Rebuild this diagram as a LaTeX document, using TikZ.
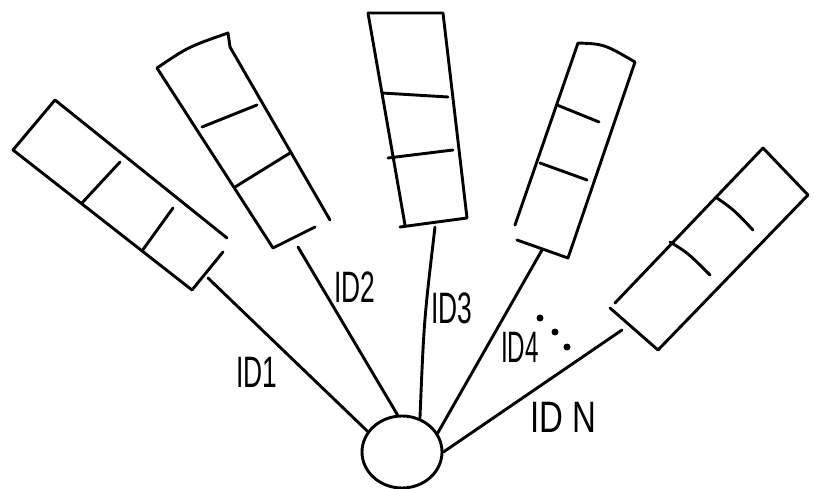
\documentclass[tikz,border=0pt]{standalone}
\usepackage{fontspec}
\setmainfont{Liberation Sans}
\usetikzlibrary{shapes.geometric}
\begin{document}
\begin{tikzpicture}[x=1pt,y=-1pt,line width=2.9pt,line cap=round,line join=round,
  lbl/.style={inner sep=0pt,font=\fontsize{44}{44}\selectfont},
  hubstyle/.style={ellipse,draw,minimum width=80pt,minimum height=72pt,inner sep=0pt},
  conn/.style={draw},
  dotstyle/.style={circle,fill=black,inner sep=0pt,minimum size=7pt}]
\useasboundingbox (0,0) rectangle (814,489);
% hub
\node[hubstyle] (hub) at (402,452) {};
% rectangle 1
\draw (227,238) -- (55,100) -- (13,150) -- (192,290) -- (223,252);
\draw (82,203) -- (120,162);
\draw (142,251) -- (173,208);
\coordinate (b1) at (208,278);
% rectangle 2
\draw (315,227) -- (273,248) -- (157,68) .. controls (188,47) .. (228,33) -- (230,47) -- (330,220);
\draw (202,127) -- (257,105);
\draw (235,187) -- (290,153);
\coordinate (b2) at (298,247);
% rectangle 3
\draw (368,13) -- (443,13) -- (467,218) -- (400,227);
\draw (368,13) -- (405,225);
\draw (382,93) -- (448,97);
\draw (388,158) -- (453,150);
\coordinate (b3) at (435,227);
% rectangle 4
\draw (515,225) -- (578,43) .. controls (604,44) .. (635,62) -- (568,258) -- (517,240);
\draw (557,105) -- (599,122);
\draw (540,163) -- (587,180);
\coordinate (b4) at (542,250);
% rectangle 5
\draw (615,303) -- (763,148) -- (808,195) -- (658,350) -- (610,308);
\draw (670,242) .. controls (688,253) .. (710,275);
\draw (717,198) .. controls (734,210) .. (753,230);
\coordinate (b5) at (622,330);
% connectors
\draw[conn] (b1) -- (hub.149);
\draw[conn] (b2) -- (hub.97);
\draw[conn] (b3) .. controls (424,320) .. (hub.62);
\draw[conn] (b4) -- (hub.28);
\draw[conn] (b5) -- (hub.0);
% labels
\node[lbl] (l1) at (257,372) {\scalebox{0.6}[1]{ID1}};
\node[lbl] (l2) at (355,287) {\scalebox{0.6}[1]{ID2}};
\node[lbl] (l3) at (452,308) {\scalebox{0.6}[1]{ID3}};
\node[lbl] (l4) at (520,347) {\scalebox{0.55}[1]{ID4}};
\node[lbl] (ln) at (563,417) {\scalebox{0.75}[1]{ID N}};
% dots
\node[dotstyle] (d1) at (540,318) {};
\node[dotstyle] (d2) at (555,332) {};
\node[dotstyle] (d3) at (567,347) {};
\end{tikzpicture}
\end{document}
